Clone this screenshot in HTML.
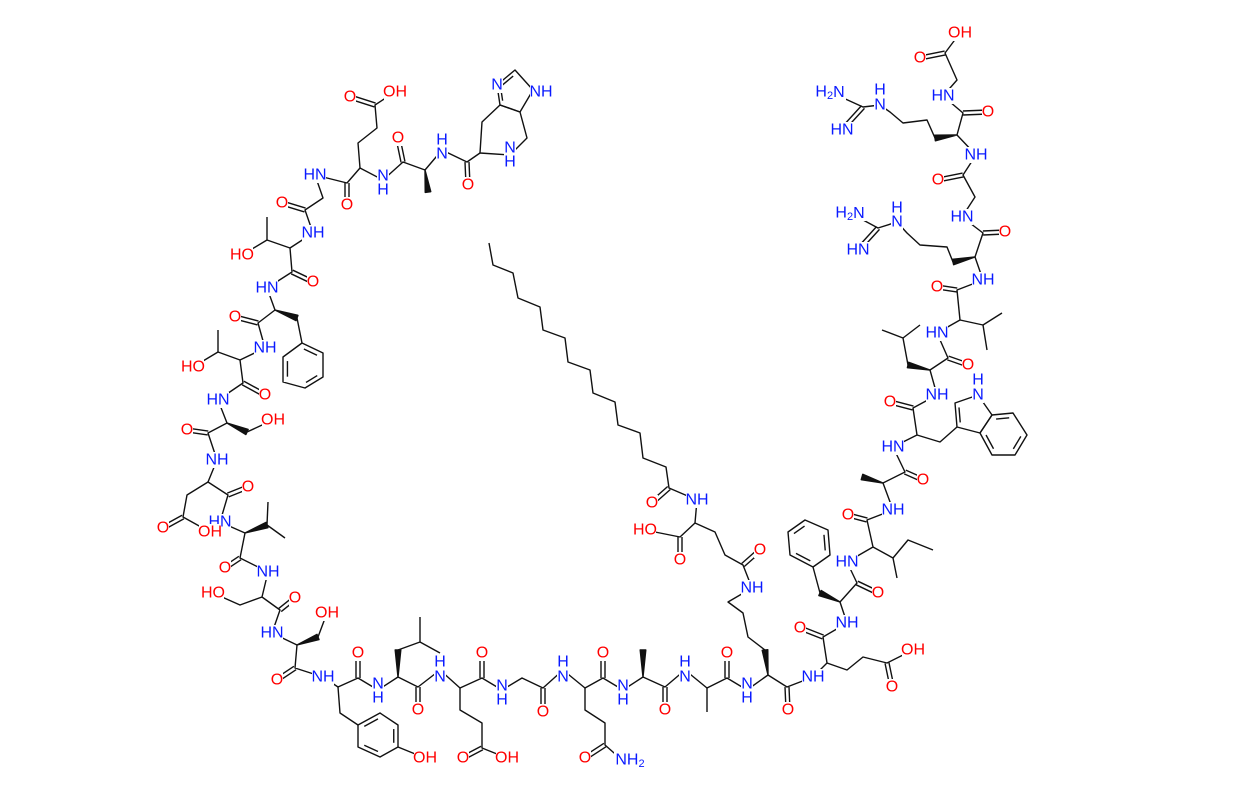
<!DOCTYPE html>
<html><head><meta charset="utf-8"><style>
html,body{margin:0;padding:0;background:#fff;}
svg text{font-family:"Liberation Sans",sans-serif;font-size:16px;text-anchor:middle;dominant-baseline:central;}
.b{fill:#0a1aff}.r{fill:#f00}
</style></head><body>
<svg id="s" width="1243" height="794" viewBox="0 0 1243 794" xmlns="http://www.w3.org/2000/svg">
<g id="bonds" stroke="#111" stroke-width="1.4" fill="none" stroke-linejoin="round"></g>
<g id="labels"></g>
</svg>
<script>
var NS="http://www.w3.org/2000/svg";
var B=document.getElementById("bonds"),L=document.getElementById("labels");
function pl(pts){var e=document.createElementNS(NS,"polyline");e.setAttribute("points",pts.map(function(p){return p.join(",")}).join(" "));B.appendChild(e);}
function wedge(a,b){var dx=b[0]-a[0],dy=b[1]-a[1],l=Math.hypot(dx,dy),nx=-dy/l*2.8,ny=dx/l*2.8;var e=document.createElementNS(NS,"polygon");e.setAttribute("points",a.join(",")+" "+(b[0]+nx)+","+(b[1]+ny)+" "+(b[0]-nx)+","+(b[1]-ny));e.setAttribute("fill","#111");B.appendChild(e);}
function ring(pts,dbl){pl(pts.concat([pts[0]]));var cx=0,cy=0;pts.forEach(function(p){cx+=p[0];cy+=p[1]});cx/=pts.length;cy/=pts.length;
 (dbl||[]).forEach(function(i){var a=pts[i],b=pts[(i+1)%pts.length];function sh(p){return [p[0]+(cx-p[0])*0.22,p[1]+(cy-p[1])*0.22]}
 var a2=sh(a),b2=sh(b);var m=[a2[0]+(b2[0]-a2[0])*0.1,a2[1]+(b2[1]-a2[1])*0.1],n=[a2[0]+(b2[0]-a2[0])*0.9,a2[1]+(b2[1]-a2[1])*0.9];pl([m,n]);});}
function dbl(a,b){var dx=b[0]-a[0],dy=b[1]-a[1],l=Math.hypot(dx,dy),nx=-dy/l*2,ny=dx/l*2;pl([[a[0]+nx,a[1]+ny],[b[0]+nx,b[1]+ny]]);pl([[a[0]-nx,a[1]-ny],[b[0]-nx,b[1]-ny]]);}
function t(s,x,y,c,n){var w=n*10+2;var r=document.createElementNS(NS,"rect");r.setAttribute("x",x-w/2);r.setAttribute("y",y-8);r.setAttribute("width",w);r.setAttribute("height",16);r.setAttribute("fill","#fff");L.appendChild(r);
var e=document.createElementNS(NS,"text");e.setAttribute("x",x);e.setAttribute("y",y);e.setAttribute("class",c);e.innerHTML=s;L.appendChild(e);}
pl([[480,153],[467,162],[442,150],[425,170],[403,162],[383,180],[360,168],[347,183],[315,175],[323,198],[305,210],[313,233],[290,248],[292,272],[267,288],[275,310],[258,323],[265,348],[240,360],[243,383],[218,400],[227,423],[208,433],[217,460],[208,482],[228,495],[220,522],[245,533],[240,558],[268,572],[262,597],[280,610],[272,633],[297,645],[295,668],[323,677],[338,687],[358,678],[378,690],[398,677],[418,687],[440,670],[460,688],[482,678],[502,690],[522,678],[543,688],[563,670],[585,688],[603,678],[623,690],[643,677],[665,687],[685,670],[707,688],[727,678],[747,690],[768,675],[787,687],[813,677],[827,663],[823,637],[847,623],[840,602],[857,583],[847,562],[873,547],[867,520],[893,510],[883,483],[905,472],[893,447],[917,435],[913,408],[937,395],[930,370],[948,358],[937,333],[960,320],[957,290],[983,280],[975,257],[983,233],[962,217],[975,197],[963,175],[976,155],[957,135],[963,113],[943,96],[957,80],[945,53],[960,33]]);
[[[467,162],[468,185]],[[403,162],[398,138]],[[347,183],[347,205]],[[305,210],[282,203]],[[292,272],[313,282]],[[258,323],[235,317]],[[243,383],[265,395]],[[208,433],[187,430]],[[228,495],[248,487]],[[240,558],[225,568]],[[280,610],[295,598]],[[295,668],[277,680]],[[358,678],[358,653]],[[418,687],[418,710]],[[482,678],[482,653]],[[543,688],[543,712]],[[603,678],[603,653]],[[665,687],[665,710]],[[727,678],[727,653]],[[787,687],[788,710]],[[823,637],[800,628]],[[857,583],[878,593]],[[867,520],[848,515]],[[905,472],[923,480]],[[913,408],[890,402]],[[948,358],[968,365]],[[957,290],[937,287]],[[983,233],[1005,232]],[[963,175],[938,180]],[[963,113],[988,112]],[[945,53],[920,58]],
[[375,105],[350,97]],[[183,517],[163,528]],[[482,748],[463,758]],[[605,745],[585,758]],[[887,663],[892,687]],[[743,565],[760,550]],[[680,537],[680,560]],[[669,488],[652,503]],[[878,228],[858,250]],[[863,107],[842,130]]].forEach(function(d){dbl(d[0],d[1])});
pl([[360,168],[358,143],[377,128],[375,105],[395,92]]);
wedge([425,170],[428,192]);
ring([[480,153],[482,122],[500,105],[520,112],[527,138],[510,155]]);
ring([[500,105],[497,85],[515,70],[533,90],[520,112]],[0,1]);
pl([[290,248],[267,240],[242,255]]);pl([[267,240],[267,217]]);
wedge([275,310],[297,318]);pl([[297,318],[302,343]]);
ring([[302,343],[323,353],[323,377],[305,388],[283,382],[283,357]],[0,2,4]);
pl([[240,360],[218,352],[193,367]]);pl([[218,352],[218,330]]);
wedge([227,423],[247,432]);pl([[247,432],[273,420]]);
pl([[208,482],[187,495],[183,517],[210,532]]);
wedge([245,533],[267,525]);pl([[267,525],[268,502]]);pl([[267,525],[285,538]]);
pl([[262,597],[240,605],[213,593]]);
wedge([297,645],[318,637]);pl([[318,637],[327,613]]);
pl([[338,687],[340,713],[358,725]]);
ring([[358,725],[380,713],[398,725],[398,747],[380,757],[358,747]],[0,2,4]);
pl([[398,747],[425,758]]);
wedge([398,677],[398,650]);pl([[398,650],[420,642],[420,617]]);pl([[420,642],[440,653]]);
pl([[460,688],[460,710],[482,723],[482,748],[507,758]]);
pl([[585,688],[585,710],[605,723],[605,745],[622,760]]);
wedge([643,677],[643,650]);pl([[707,688],[707,712]]);
wedge([768,675],[765,650]);
pl([[765,650],[748,637],[743,613],[728,602],[752,588],[743,565],[725,555],[715,532],[695,523],[697,500],[669,488],[666,467],[643,458],[640,433],[618,425],[615,402],[593,393],[590,370],[568,362],[565,338],[543,330],[540,307],[518,298],[513,273],[493,265],[489,243]]);
pl([[695,523],[680,537],[645,530]]);
pl([[827,663],[847,670],[863,657],[887,663],[913,650]]);
wedge([840,602],[820,593]);pl([[820,593],[813,567]]);
ring([[813,567],[790,555],[788,532],[805,520],[828,530],[830,555]],[0,2,4]);
pl([[873,547],[893,558],[897,578]]);pl([[893,558],[908,540],[933,550]]);
wedge([883,483],[862,477]);
pl([[917,435],[940,442],[957,427]]);
ring([[957,427],[955,403],[978,395],[992,415],[980,433]],[0]);
ring([[992,415],[1013,413],[1027,435],[1015,455],[992,455],[980,433]],[0,2,4]);
wedge([930,370],[908,365]);pl([[908,365],[903,338],[882,330]]);pl([[903,338],[920,325]]);
pl([[960,320],[983,325],[1002,313]]);pl([[983,325],[987,350]]);
wedge([975,257],[953,262]);pl([[953,262],[947,247],[920,245],[907,233],[897,222],[878,228],[850,213]]);
wedge([957,135],[935,138]);pl([[935,138],[927,120],[903,123],[890,112],[880,105],[863,107],[830,92]]);
var R="r",N="b";
[["O",350,97,R],["OH",395,92,R],["HN",315,175,N],["O",347,205,R],["N",383,176,N],["H",383,190,N],["O",398,138,R],["H",442,140,N],["N",442,154,N],["O",468,185,R],["N",497,85,N],["NH",541,92,N],["N",510,148,N],["H",510,162,N],
["O",282,203,R],["NH",313,233,N],["HO",242,255,R],["O",313,282,R],["HN",267,288,N],["O",235,317,R],["NH",265,348,N],["HO",193,367,R],["O",265,395,R],["HN",218,400,N],["OH",273,420,R],["O",187,430,R],["NH",217,460,N],["O",248,487,R],["HN",220,522,N],["O",163,528,R],["OH",210,532,R],["O",225,568,R],["NH",268,572,N],["HO",213,593,R],["O",295,598,R],["OH",327,613,R],["HN",272,633,N],["O",277,680,R],["NH",323,677,N],["O",358,653,R],["N",378,684,N],["H",378,698,N],["O",418,710,R],["H",440,662,N],["N",440,677,N],["OH",425,758,R],
["O",482,653,R],["N",502,686,N],["H",502,700,N],["O",543,712,R],["H",563,662,N],["N",563,677,N],["O",603,653,R],["N",623,686,N],["H",623,700,N],["O",463,758,R],["OH",507,758,R],["O",585,758,R],["NH<tspan font-size='11' dy='4'>2</tspan>",630,760,N],["O",665,710,R],["H",685,662,N],["N",685,677,N],["O",727,653,R],["N",747,684,N],["H",747,698,N],["O",788,710,R],["NH",813,677,N],["O",892,687,R],["OH",913,650,R],
["O",800,628,R],["NH",847,623,N],["O",878,593,R],["HN",847,562,N],["O",848,515,R],["NH",893,510,N],["O",923,480,R],["HN",893,447,N],["O",890,402,R],["NH",937,395,N],["H",978,380,N],["N",978,395,N],["O",968,365,R],["HN",937,333,N],["O",937,287,R],["NH",983,280,N],["O",1005,232,R],["HN",962,217,N],["H<tspan font-size='11' dy='4'>2</tspan><tspan dy='-4'>N</tspan>",850,213,N],["H",897,208,N],["N",897,222,N],["HN",858,250,N],["O",938,180,R],["NH",976,155,N],["O",988,112,R],["HN",943,96,N],["OH",960,33,R],["O",920,58,R],["H<tspan font-size='11' dy='4'>2</tspan><tspan dy='-4'>N</tspan>",830,92,N],["H",880,90,N],["N",880,105,N],["HN",842,130,N],
["O",652,503,R],["NH",697,500,N],["HO",645,530,R],["O",680,560,R],["O",760,550,R],["NH",752,588,N]].forEach(function(a){var n=a[0].indexOf("tspan")>=0?3:a[0].length;if(a[0]=="H")n=1;t(a[0],a[1],a[2],a[3],n)});
</script>
</body></html>
